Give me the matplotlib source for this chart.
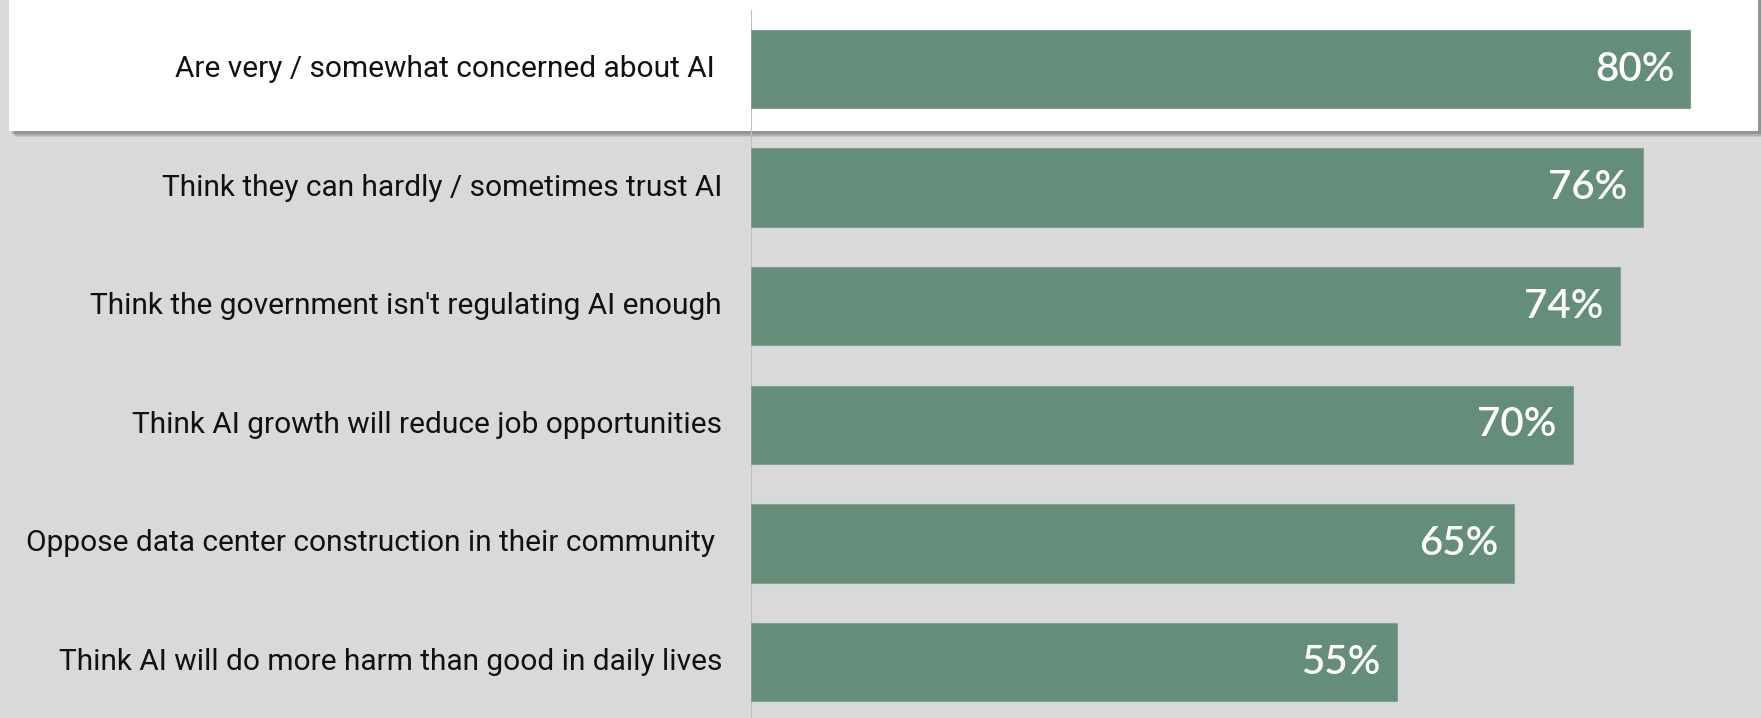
import matplotlib
matplotlib.use('agg')

import matplotlib.pyplot as plt
from matplotlib.patches import Rectangle
import matplotlib.patheffects as pe

# data
labels = [
    "Are very / somewhat concerned about AI ",
    "Think they can hardly / sometimes trust AI",
    "Think the government isn't regulating AI enough",
    "Think AI growth will reduce job opportunities",
    "Oppose data center construction in their community ",
    "Think AI will do more harm than good in daily lives",
]
values = [80, 76, 74, 70, 65, 55]

W, H = 1761, 718
bg = '#d9d9d9'
green = '#648d7a'

fig = plt.figure(figsize=(W / 100, H / 100), dpi=100)
fig.patch.set_facecolor(bg)

# white highlight box behind the first row, with a soft shadow
shadow = [pe.SimplePatchShadow(offset=(o, -o), shadow_rgbFace='#444444', alpha=a)
          for o, a in [(4.5, 0.12), (3.5, 0.18), (2.5, 0.25)]]
box = Rectangle((9 / W, 1 - 131 / H), 1749 / W, 131 / H + 0.01,
                transform=fig.transFigure, facecolor='white', edgecolor='none',
                zorder=0, path_effects=shadow + [pe.Normal()])
fig.add_artist(box)

ax = fig.add_axes([751 / W, 0, 1 - 751 / W, 1])
ax.patch.set_alpha(0)

ypos = list(range(len(values)))
ax.barh(ypos, values, height=0.66, color=green, edgecolor='#7fa08f', linewidth=0.8, zorder=3)

px_per_pct = 11.74
ax.set_xlim(0, (W - 751) / px_per_pct)
ax.set_ylim(5.472, -0.582)

for y, v, lab in zip(ypos, values, labels):
    ax.text(v - 16 / px_per_pct, y, f"{v}%", ha='right', va='center', color='white',
            fontsize=29, fontweight='semibold', family=['Lato', 'DejaVu Sans'], zorder=4)
    ax.text(-29 / px_per_pct, y, lab, ha='right', va='center', color='#111111',
            fontsize=21.5, family=['Roboto', 'DejaVu Sans'], clip_on=False)

for s in ax.spines.values():
    s.set_visible(False)
ax.set_xticks([])
ax.set_yticks([])

# vertical axis line
ax.axvline(0, ymin=0, ymax=1 - 11 / H, color='#bfbfbf', linewidth=1.5, zorder=2)

fig.savefig('out.png', dpi=100, facecolor=bg)
